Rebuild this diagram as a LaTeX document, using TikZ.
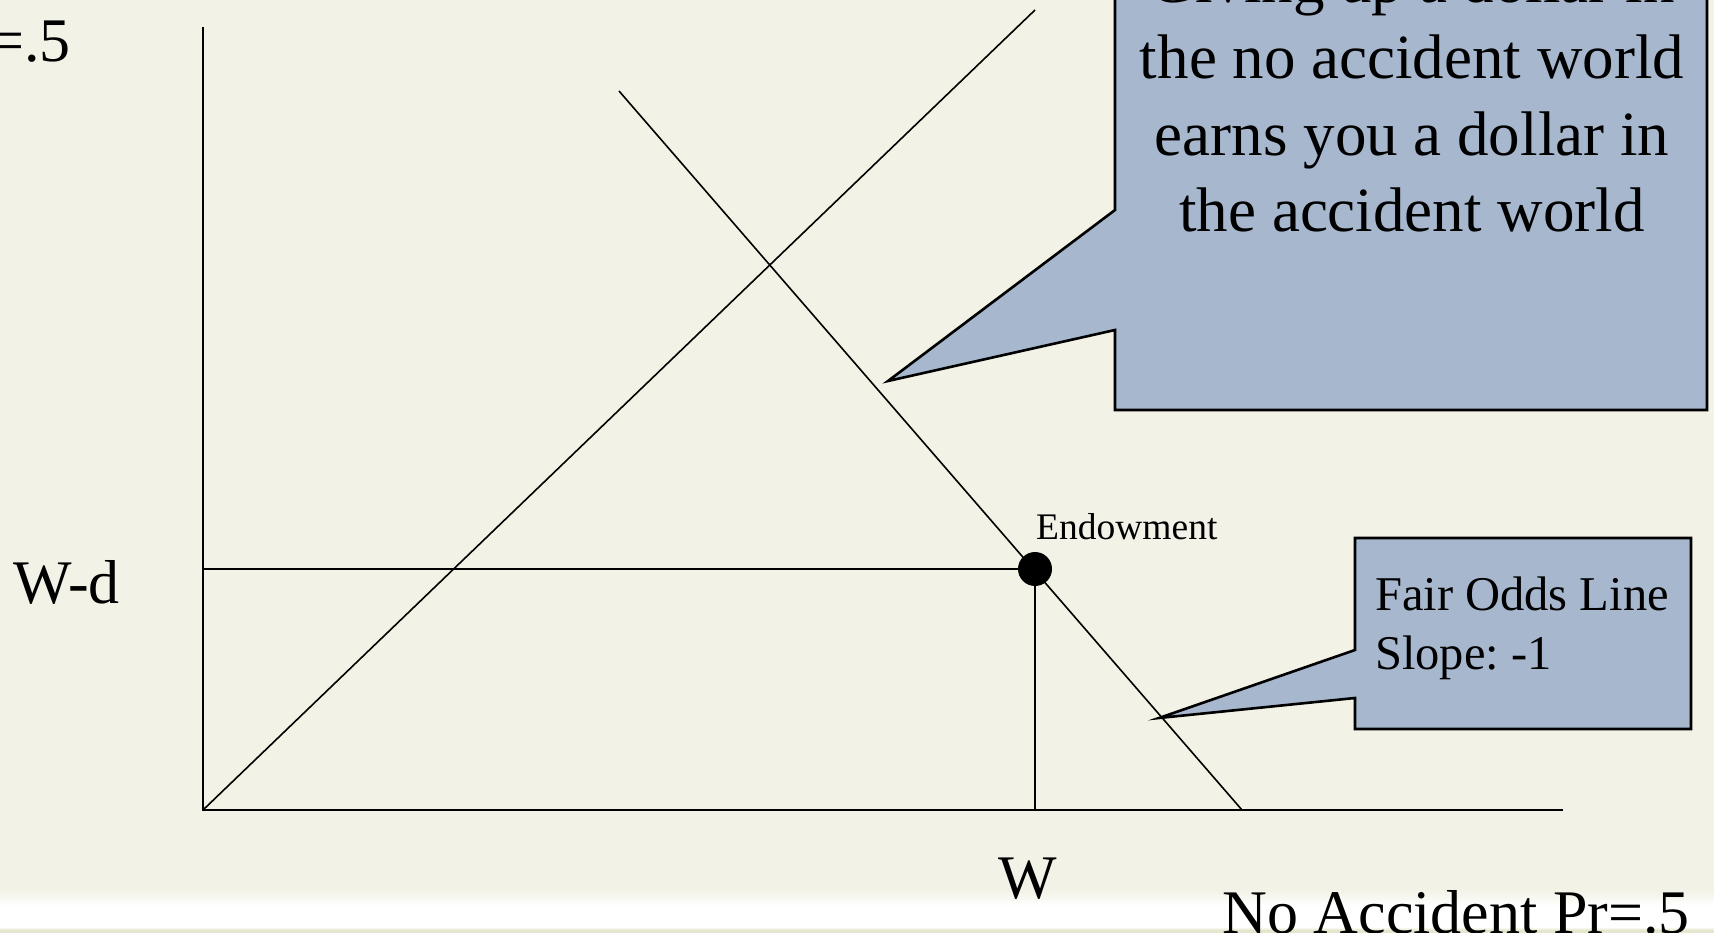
\documentclass[tikz,border=0pt]{standalone}
\usepackage{fontspec}
\setmainfont{Liberation Serif}
\frenchspacing
\definecolor{bg}{HTML}{F2F2E7}
\definecolor{callfill}{HTML}{A6B7CE}
\definecolor{banddark}{HTML}{E6E6CF}
\begin{document}
\begin{tikzpicture}[x=1pt,y=-1pt,
  axisline/.style={line width=2.6pt},
  plotline/.style={line width=1.6pt},
  calloutshape/.style={fill=callfill, draw=black, line width=2.6pt, line join=miter},
  bigtext/.style={font=\fontsize{62}{74}\selectfont, inner sep=0pt},
  calltext/.style={font=\fontsize{63}{76.5}\selectfont, inner sep=0pt, align=center},
  smallcall/.style={font=\fontsize{48.5}{58.5}\selectfont, inner sep=0pt, align=left},
  labeltext/.style={font=\fontsize{37.5}{45}\selectfont, inner sep=0pt}]
% background and page bounds
\useasboundingbox (0,0) rectangle (1714,933);
\clip (0,0) rectangle (1714,933);
\fill[bg] (0,0) rectangle (1714,933);
\shade[top color=bg, bottom color=white] (0,890) rectangle (1714,906);
\fill[white] (0,906) rectangle (1714,927);
\shade[top color=white, bottom color=banddark] (0,927) rectangle (1714,930);
\fill[banddark] (0,930) rectangle (1714,933);

% key points
\coordinate (O) at (203,810);
\coordinate (ytop) at (203,27);
\coordinate (xend) at (1563,810);
\coordinate (diagtop) at (1035,10);
\coordinate (fotop) at (619,91);
\coordinate (fobot) at (1242,810);
\coordinate (E) at (1035,569);
\coordinate (Ey) at (203,569);
\coordinate (Ex) at (1035,810);

% axes
\draw[axisline] (ytop) -- (O) -- (xend);
% certainty line and fair odds line
\draw[plotline] (O) -- (diagtop);
\draw[plotline] (fotop) -- (fobot);
% endowment guides
\draw[plotline] (Ey) -- (E) -- (Ex);
\fill (E) circle (17);

% labels
\node[bigtext, anchor=base east] (accpr) at (71,62) {Accident Pr=.5};
\node[bigtext, anchor=base west] (wd) at (13,603) {W-d};
\node[bigtext, anchor=base] (w) at (1028,898) {W};
\node[bigtext, anchor=base east] (noacc) at (1690,933) {No Accident Pr=.5};
\node[labeltext, anchor=base west] (endow) at (1036,539) {Endowment};

% callout 1
\coordinate (c1tl) at (1115,-20);
\coordinate (c1a) at (1115,210);
\coordinate (c1tip) at (888,381);
\coordinate (c1b) at (1115,330);
\coordinate (c1bl) at (1115,410);
\coordinate (c1br) at (1707,410);
\coordinate (c1tr) at (1707,-20);
\draw[calloutshape] (c1tl) -- (c1a) -- (c1tip) -- (c1b) -- (c1bl) -- (c1br) -- (c1tr) -- cycle;
\node[calltext, anchor=north] (c1text) at (1412,-41.5)
  {Giving up a dollar in\\the no accident world\\earns you a dollar in\\the accident world};

% callout 2
\coordinate (c2tl) at (1355,538);
\coordinate (c2a) at (1355,650);
\coordinate (c2tip) at (1159,718);
\coordinate (c2b) at (1355,698);
\coordinate (c2bl) at (1355,729);
\coordinate (c2br) at (1691,729);
\coordinate (c2tr) at (1691,538);
\draw[calloutshape] (c2tl) -- (c2a) -- (c2tip) -- (c2b) -- (c2bl) -- (c2br) -- (c2tr) -- cycle;
\node[smallcall, anchor=north west] (c2text) at (1375,577) {Fair Odds Line\\Slope: -1};
\end{tikzpicture}
\end{document}
